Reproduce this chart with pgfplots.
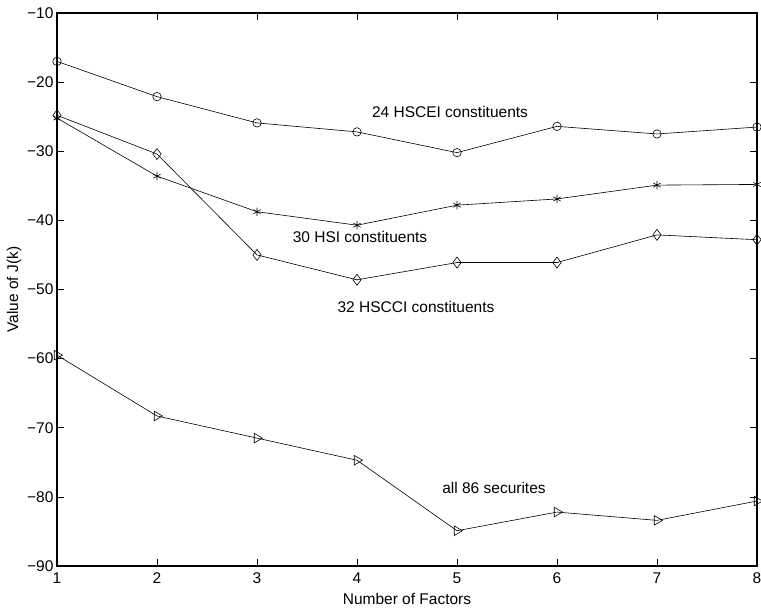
\documentclass[border=0pt]{standalone}
\usepackage{fontspec}
\setmainfont{Liberation Sans}
\usepackage{pgfplots}
\pgfplotsset{compat=1.18}
\begin{document}
\begin{tikzpicture}
\begin{axis}[name=ax,
  scale only axis, width=700pt, height=553pt,
  xmin=1, xmax=8, ymin=-90, ymax=-10,
  xtick={1,2,3,4,5,6,7,8},
  ytick={-90,-80,-70,-60,-50,-40,-30,-20,-10},
  yticklabels={−90,−80,−70,−60,−50,−40,−30,−20,−10},
  tick align=inside, major tick length=7pt,
  axis line style={line width=1.1pt},
  every tick/.style={black, line width=0.7pt},
  font=\fontsize{15.5}{17}\selectfont,
  tick label style={font=\fontsize{15.5}{17}\selectfont},
  /pgf/number format/assume math mode=true,
  xlabel={Number of Factors}, ylabel={Value of J(k)},
  xlabel style={yshift=-3pt}, ylabel style={yshift=-1pt},
  xticklabel style={yshift=-3pt},
  clip=false,
]
\addplot[black, line width=0.6pt, mark=o, mark size=4.2pt] coordinates {(1,-17) (2,-22.1) (3,-25.9) (4,-27.2) (5,-30.2) (6,-26.4) (7,-27.5) (8,-26.5)};
\addplot[black, line width=0.6pt, mark=asterisk, mark size=4.2pt] coordinates {(1,-25.2) (2,-33.6) (3,-38.75) (4,-40.7) (5,-37.8) (6,-36.9) (7,-34.9) (8,-34.8)};
\addplot[black, line width=0.6pt, mark=diamond, mark size=5.5pt] coordinates {(1,-24.8) (2,-30.4) (3,-45.0) (4,-48.6) (5,-46.1) (6,-46.1) (7,-42.1) (8,-42.8)};
\addplot[black, line width=0.6pt, mark=triangle, mark size=5.5pt, mark options={rotate=-90}] coordinates {(1,-59.5) (2,-68.3) (3,-71.5) (4,-74.7) (5,-84.9) (6,-82.2) (7,-83.4) (8,-80.6)};
\node[font=\fontsize{15.5}{17}\selectfont] at (axis cs:4.93,-24.3) {24 HSCEI constituents};
\node[font=\fontsize{15.5}{17}\selectfont] at (axis cs:4.03,-42.4) {30 HSI constituents};
\node[font=\fontsize{15.5}{17}\selectfont] at (axis cs:4.59,-52.5) {32 HSCCI constituents};
\node[font=\fontsize{15.5}{17}\selectfont] at (axis cs:5.37,-78.7) {all 86 securites};
\end{axis}
\pgfresetboundingbox
\path ([xshift=-57pt,yshift=-43pt]ax.south west) rectangle ([xshift=4pt,yshift=13pt]ax.north east);
\end{tikzpicture}
\end{document}
